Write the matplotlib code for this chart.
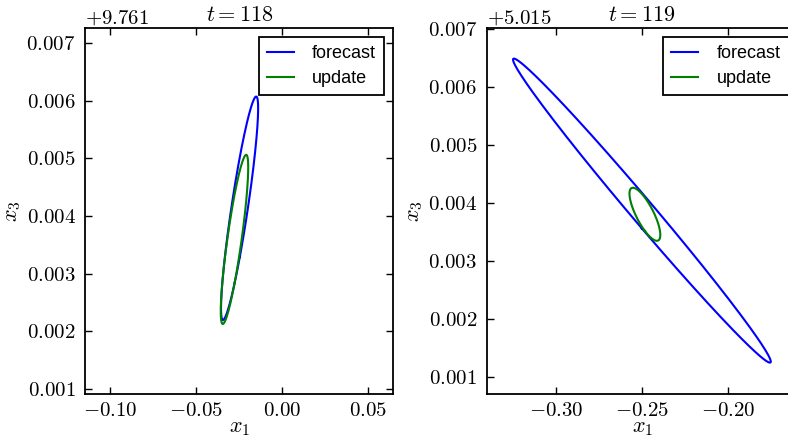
import numpy as np
import matplotlib
matplotlib.use("Agg")
import matplotlib.pyplot as plt
from matplotlib.ticker import ScalarFormatter, MultipleLocator

plt.rcParams['mathtext.fontset'] = 'cm'
plt.rcParams['font.family'] = 'serif'
plt.rcParams['font.serif'] = ['cmr10', 'DejaVu Serif']
plt.rcParams['axes.formatter.use_mathtext'] = True
plt.rcParams['axes.unicode_minus'] = True

# ellipse data: centre (x1, x3) and covariance for forecast / update
times = [118, 119]
fc_centre = [(-0.02474, 9.765134), (-0.25017, 5.018865)]
up_centre = [(-0.02770, 9.764594), (-0.24844, 5.018802)]
fc_cov = [[[1.1616e-4, 1.8682e-5], [1.8682e-5, 3.756e-6]],
          [[5.5763e-3, -1.9415e-4], [-1.9415e-4, 6.854e-6]]]
up_cov = [[[6.357e-5, 9.961e-6], [9.961e-6, 2.152e-6]],
          [[7.988e-5, -3.176e-6], [-3.176e-6, 2.088e-7]]]
y_offsets = [9.761, 5.015]
xlims = [(-0.1143, 0.0645), (-0.3401, -0.1599)]
ylims = [(9.761913, 9.768260), (5.015707, 5.022010)]


def ellipse(centre, cov, n=200):
    w, v = np.linalg.eigh(np.array(cov))
    t = np.linspace(0, 2 * np.pi, n)
    circ = np.vstack([np.cos(t), np.sin(t)])
    pts = v @ (np.sqrt(w)[:, None] * circ)
    return centre[0] + pts[0], centre[1] + pts[1]


fig = plt.figure(figsize=(7.88, 4.44), dpi=100)
axes = [fig.add_axes([85.3 / 788, 1 - 394 / 444, 308 / 788, 366 / 444]),
        fig.add_axes([486.7 / 788, 1 - 394 / 444, 311 / 788, 366 / 444])]

for i, ax in enumerate(axes):
    x, y = ellipse(fc_centre[i], fc_cov[i])
    ax.plot(x, y, color='#0000ff', lw=1.5, label='forecast')
    x, y = ellipse(up_centre[i], up_cov[i])
    ax.plot(x, y, color='#008000', lw=1.5, label='update')
    ax.set_xlim(*xlims[i])
    ax.set_ylim(*ylims[i])
    ax.xaxis.set_major_locator(MultipleLocator(0.05))
    ax.yaxis.set_major_locator(MultipleLocator(0.001))
    ax.xaxis.set_major_formatter(ScalarFormatter(useOffset=False, useMathText=True))
    ax.yaxis.set_major_formatter(ScalarFormatter(useOffset=y_offsets[i], useMathText=True))
    ax.yaxis.get_offset_text().set_fontsize(15)
    ax.tick_params(direction='in', top=True, right=True, length=5, width=1,
                   labelsize=15, pad=7)
    ax.tick_params(axis='x', pad=6)
    for s in ax.spines.values():
        s.set_linewidth(1.3)
    ax.set_title('$t = %d$' % times[i], fontsize=16, pad=5)
    ax.set_xlabel('$x_1$', fontsize=16)
    ax.set_ylabel('$x_3$', fontsize=16)
    ax.xaxis.set_label_coords(0.5, -0.066)
    ax.yaxis.set_label_coords(-62.0 / ax.get_position().width / 788, 0.5)
    leg = ax.legend(loc='upper right', fancybox=False, framealpha=1,
                    prop={'family': 'Liberation Sans', 'size': 13},
                    handlelength=1.5, handletextpad=1.0, borderpad=0.45,
                    labelspacing=0.45, borderaxespad=0.5)
    leg.get_frame().set_edgecolor('black')
    leg.get_frame().set_linewidth(1.3)

fig.savefig('out.png', dpi=100)
